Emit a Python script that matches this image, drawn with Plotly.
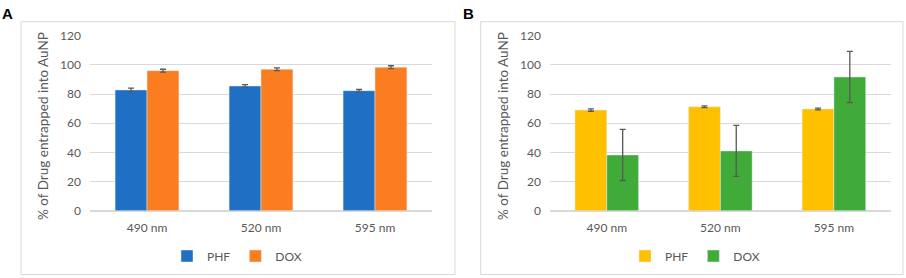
import plotly.graph_objects as go

categories = ["490 nm", "520 nm", "595 nm"]
tick_vals = [0, 20, 40, 60, 80, 100, 120]

a_phf = [82.8, 85.5, 82.3]
a_phf_err = [1.2, 1.0, 0.8]
a_dox = [96.0, 97.0, 98.4]
a_dox_err = [1.0, 1.0, 1.0]

b_phf = [69.0, 71.3, 69.8]
b_phf_err = [0.8, 0.6, 0.6]
b_dox = [38.2, 41.0, 91.7]
b_dox_err = [17.5, 17.5, 17.5]

W, H = 906, 278
FONT = "Lato"
GRAY = "#595959"

def px(x):
    return x / W

def py(y):
    return 1 - y / H

err_style = dict(type="data", color=GRAY, thickness=1.3, width=3)

fig = go.Figure()
fig.add_trace(go.Bar(x=categories, y=a_phf, name="PHF", marker_color="#1F6FC5",
                     error_y=dict(array=a_phf_err, **err_style), xaxis="x", yaxis="y", legend="legend"))
fig.add_trace(go.Bar(x=categories, y=a_dox, name="DOX", marker_color="#FB7D20",
                     error_y=dict(array=a_dox_err, **err_style), xaxis="x", yaxis="y", legend="legend"))
fig.add_trace(go.Bar(x=categories, y=b_phf, name="PHF", marker_color="#FFC000",
                     error_y=dict(array=b_phf_err, **err_style), xaxis="x2", yaxis="y2", legend="legend2"))
fig.add_trace(go.Bar(x=categories, y=b_dox, name="DOX", marker_color="#41AB3A",
                     error_y=dict(array=b_dox_err, **err_style), xaxis="x2", yaxis="y2", legend="legend2"))

ydom = [py(210.7), py(35.7)]
yax = dict(range=[0, 120], tickvals=tick_vals, showgrid=True, gridcolor="#D9D9D9", gridwidth=1,
           zeroline=True, zerolinecolor="#D9D9D9", showline=False, ticks="", automargin=False,
           ticklabelstandoff=8, tickfont=dict(family=FONT, size=12, color=GRAY), domain=ydom,
           fixedrange=True)
xax = dict(showline=False, ticks="", ticklabelstandoff=8, automargin=False,
           tickfont=dict(family=FONT, size=12, color=GRAY))

legfont = dict(family=FONT, size=12, color=GRAY)
title_font = dict(family=FONT, size=13.5, color=GRAY)
fig.update_layout(
    width=W, height=H, margin=dict(l=0, r=0, t=0, b=0, autoexpand=False),
    paper_bgcolor="white", plot_bgcolor="white",
    barmode="group", bargap=0.44, bargroupgap=0,
    xaxis=dict(domain=[px(90), px(432)], anchor="y", **xax),
    xaxis2=dict(domain=[px(550), px(890.7)], anchor="y2", **xax),
    yaxis=dict(anchor="x", **yax),
    yaxis2=dict(anchor="x2", **yax),
    legend=dict(orientation="h", x=px(237), y=py(256), xanchor="center", yanchor="middle",
                font=legfont, itemwidth=30, bgcolor="rgba(0,0,0,0)"),
    legend2=dict(orientation="h", x=px(695), y=py(256), xanchor="center", yanchor="middle",
                 font=legfont, itemwidth=30, bgcolor="rgba(0,0,0,0)"),
    shapes=[
        dict(type="rect", xref="paper", yref="paper", x0=px(21), x1=px(455), y0=py(274.5), y1=py(21.7),
             line=dict(color="#D9D9D9", width=1)),
        dict(type="rect", xref="paper", yref="paper", x0=px(480.7), x1=px(903), y0=py(274.5), y1=py(21.7),
             line=dict(color="#D9D9D9", width=1)),
    ],
    annotations=[
        dict(text="<b>A</b>", x=px(0), y=py(3), xref="paper", yref="paper", xanchor="left", yanchor="top",
             showarrow=False, font=dict(family="Liberation Sans", size=15, color="black")),
        dict(text="<b>B</b>", x=px(460.5), y=py(3), xref="paper", yref="paper", xanchor="left", yanchor="top",
             showarrow=False, font=dict(family="Liberation Sans", size=15, color="black")),
        dict(text="% of Drug entrapped into AuNP", x=px(43), y=py(126), xref="paper", yref="paper",
             textangle=-90, showarrow=False, xanchor="center", yanchor="middle", font=title_font),
        dict(text="% of Drug entrapped into AuNP", x=px(503), y=py(126), xref="paper", yref="paper",
             textangle=-90, showarrow=False, xanchor="center", yanchor="middle", font=title_font),
    ],
)

fig.write_html("out.html", config={"displayModeBar": False},
               post_script="document.body.style.margin='0';document.body.style.overflow='hidden';")
